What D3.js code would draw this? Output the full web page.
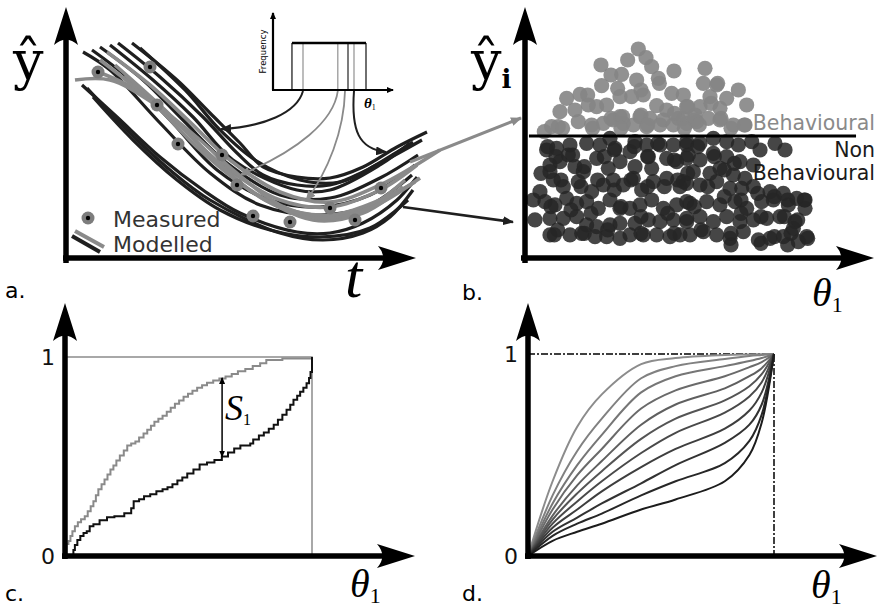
<!DOCTYPE html>
<html>
<head>
<meta charset="utf-8">
<script src="https://cdn.jsdelivr.net/npm/d3@7"></script>
<style>
  html, body { margin: 0; padding: 0; background: #fff; }
  svg { display: block; }
</style>
</head>
<body>
<script>
// ---------- a. model runs (t, y-hat) and observations ----------
const modelRunsDark = [
  [[66,215],[111,178],[144,145],[174,115],[197,91],[231,81],[264,80],[297,91],[331,111],[361,126]],
  [[52,215],[94,181],[137,141],[171,105],[197,83],[231,73],[264,73],[297,86],[331,106],[347,116]],
  [[74,210],[119,168],[154,128],[189,98],[234,78],[274,76],[314,95],[356,118]],
  [[44,213],[87,178],[127,141],[167,98],[231,68],[264,68],[314,93],[344,115]],
  [[34,211],[77,178],[117,138],[161,95],[214,63],[264,60],[314,80],[352,103]],
  [[26,208],[61,181],[104,138],[151,88],[204,58],[254,51],[304,63],[349,93]],
  [[17,206],[44,188],[94,135],[144,85],[194,53],[254,43],[304,53],[346,83]],
  [[16,173],[51,141],[94,101],[137,68],[174,45],[231,26],[264,25],[297,35],[331,58],[351,81]],
  [[21,170],[61,128],[104,88],[144,58],[214,25],[257,18],[297,25],[324,41],[347,68]],
  [[27,161],[67,118],[111,78],[154,48],[204,28],[254,21],[304,30],[342,58]]
];
const modelRunsGray = [
  [[41,206],[84,173],[124,136],[164,98],[214,66],[264,56],[314,73],[374,108]],
  [[27,188],[67,170],[111,135],[154,95],[214,58],[264,51],[314,68],[351,93]],
  [[9,178],[44,178],[87,155],[134,118],[167,88],[214,53],[247,43],[297,48],[339,78]],
  [[34,198],[84,158],[134,108],[184,68],[247,38],[297,45],[337,71]],
  [[49,193],[99,148],[149,98],[199,58],[254,40],[304,50],[354,80]],
  [[59,183],[109,138],[159,88],[209,53],[264,43],[314,58],[349,76]]
];
const measured = [
  [32,186],[84,191],[91,153],[112,114],[156,103],[171,73],
  [187,42],[224,36],[264,50],[289,38],[315,70]
];
// inset: uniform sampling range of theta_1 and the drawn samples
const samplingRange = [0.158, 0.775];
const samplingLevel = 0.61;
const drawnSamples = [0.25, 0.54, 0.625, 0.675];
const drawnShades = ["gray", "gray", "dark", "gray"];

// ---------- b. objective function against theta_1 ----------
const behaviouralThreshold = 367;
const scatterPoints = [
  [342,628],[310,595],[365,602],[230,580],[260,550],[292,552],[382,575],[449,562],[337,535],[402,540],
  [232,518],[127,480],[167,492],[287,485],[322,485],[357,490],[442,495],[477,490],[192,460],[217,455],
  [247,460],[397,458],[427,445],[107,440],[152,445],[287,425],[347,425],[377,420],[417,415],[462,420],
  [82,395],[102,395],[162,410],[202,400],[237,405],[267,415],[297,405],[327,400],[367,395],[407,400],
  [447,400],[487,405],[542,570],[537,525],[577,520],[642,505],[557,485],[607,480],[667,460],[487,455],
  [527,455],[587,450],[477,420],[517,410],[552,420],[587,415],[627,400],[662,400],[512,430],[190,490],
  [260,420],[295,425],[350,430],[450,435],[510,415],[590,420],[115,390],[205,390],[290,390],[370,400],
  [480,390],[525,400],[620,390],[660,400],[60,380],[405,525],[280,510],[350,505],[580,525],[490,455],
  [560,465],
  [67,325],[97,330],[137,340],[132,310],[187,345],[227,340],[272,330],[332,350],[317,320],[367,340],
  [407,340],[447,340],[487,340],[257,360],[77,280],[107,290],[152,275],[177,260],[217,300],[252,270],
  [287,290],[332,275],[372,305],[382,270],[427,300],[457,290],[487,300],[77,260],[47,200],[87,235],
  [117,215],[162,230],[202,200],[237,220],[267,235],[297,220],[327,240],[352,205],[387,230],[427,240],
  [467,215],[487,225],[27,175],[62,170],[92,160],[127,180],[157,165],[187,170],[222,150],[257,175],
  [287,150],[317,150],[347,160],[382,175],[417,150],[457,160],[487,170],[32,115],[77,120],[117,120],
  [157,125],[187,100],[217,95],[257,100],[287,105],[332,105],[372,115],[407,110],[447,115],[487,110],
  [77,70],[137,70],[172,75],[212,65],[247,65],[287,60],[317,70],[357,70],[397,70],[437,65],[467,70],
  [487,350],[527,345],[567,360],[607,350],[642,340],[682,350],[707,325],[752,345],[782,325],[492,310],
  [527,295],[567,315],[607,305],[647,290],[687,280],[507,260],[557,255],[587,270],[627,250],[662,240],
  [477,230],[527,220],[577,230],[617,210],[652,210],[687,215],[737,200],[777,195],[817,180],[497,165],
  [547,170],[587,160],[632,170],[667,150],[712,170],[747,175],[792,160],[842,175],[487,120],[527,125],
  [567,110],[607,125],[647,110],[687,115],[727,120],[767,125],[812,110],[842,150],[497,70],[537,80],
  [577,70],[617,60],[657,80],[702,55],[737,60],[777,65],[807,90],[847,65],[822,50],[70,335],
  [95,305],[145,310],[180,275],[240,305],[270,325],[330,335],[370,305],[400,345],[450,295],[490,255],
  [520,335],[570,305],[600,265],[630,285],[50,255],[110,235],[170,215],[220,235],[270,205],[320,235],
  [370,215],[420,215],[460,235],[550,215],[600,185],[650,175],[700,195],[750,185],[790,175],[840,175],
  [80,155],[140,145],[200,135],[290,155],[350,125],[430,135],[510,155],[650,135],[710,125],[780,125],
  [820,115],[100,85],[180,75],[250,85],[350,75],[450,75],[530,85],[620,75],[750,65],[800,75],
  [850,60],[620,40],[710,45],[790,40],[90,70]
];

// ---------- c. cumulative distributions of theta_1 ----------
const cdfBehavioural = [
  [0.000,0.000],[0.006,0.060],[0.014,0.075],[0.022,0.100],[0.030,0.125],[0.040,0.150],[0.052,0.170],
  [0.065,0.185],[0.080,0.200],[0.092,0.225],[0.104,0.250],[0.115,0.275],[0.125,0.305],[0.135,0.335],
  [0.148,0.360],[0.160,0.385],[0.172,0.410],[0.184,0.435],[0.196,0.455],[0.208,0.480],[0.222,0.505],
  [0.238,0.530],[0.252,0.555],[0.268,0.565],[0.285,0.575],[0.300,0.595],[0.318,0.615],[0.333,0.635],
  [0.348,0.655],[0.362,0.675],[0.378,0.690],[0.395,0.705],[0.412,0.725],[0.428,0.745],[0.445,0.765],
  [0.462,0.782],[0.480,0.800],[0.498,0.815],[0.516,0.830],[0.535,0.845],[0.555,0.858],[0.575,0.870],
  [0.600,0.882],[0.625,0.892],[0.650,0.902],[0.675,0.915],[0.700,0.928],[0.730,0.940],[0.760,0.955],
  [0.790,0.968],[0.815,0.985],[0.880,0.993],[1.000,1.000]
];
const cdfNonBehavioural = [
  [0.030,0.000],[0.034,0.030],[0.040,0.055],[0.050,0.080],[0.062,0.100],[0.075,0.115],[0.088,0.125],
  [0.100,0.150],[0.115,0.160],[0.140,0.180],[0.170,0.195],[0.200,0.200],[0.240,0.215],[0.268,0.240],
  [0.278,0.275],[0.300,0.285],[0.320,0.300],[0.345,0.310],[0.370,0.325],[0.395,0.335],[0.415,0.345],
  [0.435,0.360],[0.455,0.380],[0.475,0.395],[0.495,0.415],[0.520,0.435],[0.545,0.460],[0.575,0.470],
  [0.605,0.482],[0.635,0.500],[0.660,0.520],[0.685,0.540],[0.710,0.555],[0.750,0.565],[0.762,0.585],
  [0.785,0.605],[0.805,0.620],[0.825,0.640],[0.845,0.660],[0.862,0.685],[0.880,0.710],[0.897,0.735],
  [0.912,0.760],[0.925,0.785],[0.940,0.805],[0.952,0.825],[0.965,0.845],[0.978,0.868],[0.988,0.895],
  [0.994,0.925],[1.000,1.000]
];
const separationAt = 0.636;
const separationRange = [0.50, 0.895];

// ---------- d. family of cumulative distributions ----------
const familyTheta = [0, 0.1, 0.2, 0.3, 0.46, 0.6, 0.8, 0.9, 0.95, 1];
const familyCdf = [
  [0, 0.37, 0.64, 0.80, 0.95, 0.98, 0.995, 0.998, 0.999, 1],
  [0, 0.30, 0.52, 0.68, 0.88, 0.94, 0.975, 0.99, 0.995, 1],
  [0, 0.26, 0.45, 0.60, 0.81, 0.89, 0.94, 0.965, 0.98, 1],
  [0, 0.23, 0.40, 0.53, 0.73, 0.82, 0.89, 0.935, 0.96, 1],
  [0, 0.20, 0.35, 0.47, 0.65, 0.75, 0.83, 0.89, 0.93, 1],
  [0, 0.18, 0.31, 0.42, 0.58, 0.68, 0.77, 0.84, 0.90, 1],
  [0, 0.16, 0.27, 0.37, 0.51, 0.61, 0.71, 0.79, 0.86, 1],
  [0, 0.14, 0.23, 0.32, 0.44, 0.53, 0.63, 0.72, 0.81, 1],
  [0, 0.12, 0.19, 0.26, 0.36, 0.45, 0.56, 0.65, 0.75, 1],
  [0, 0.10, 0.16, 0.21, 0.30, 0.37, 0.46, 0.57, 0.70, 1],
  [0, 0.075, 0.12, 0.16, 0.23, 0.28, 0.37, 0.50, 0.66, 1]
];

// ================= drawing =================
const W = 882, H = 609;
const DARK = "#1f1f1f", GRAY = "#8a8a8a";
const SANS = "'DejaVu Sans', sans-serif";
const SERIF = "'Liberation Serif', 'DejaVu Serif', serif";

const svg = d3.select("body").append("svg").attr("width", W).attr("height", H);
svg.append("rect").attr("width", W).attr("height", H).attr("fill", "#fff");
const defs = svg.append("defs");

function addMarker(id, color, len, half) {
  defs.append("marker")
    .attr("id", id)
    .attr("viewBox", `0 ${-half} ${len} ${2 * half}`)
    .attr("refX", len - 1).attr("refY", 0)
    .attr("markerWidth", len).attr("markerHeight", 2 * half)
    .attr("markerUnits", "userSpaceOnUse")
    .attr("orient", "auto-start-reverse")
    .append("path")
    .attr("d", `M0,${-half}L${len},0L0,${half}Z`)
    .attr("fill", color);
}
addMarker("head-dark", DARK, 11, 4.5);
addMarker("head-gray", GRAY, 11, 4.5);
addMarker("head-small", "#000", 7, 3);

// thick axis with a swept arrowhead at (x2, y2)
function axisArrow(x1, y1, x2, y2, w, len = 38, half = 12) {
  const ang = Math.atan2(y2 - y1, x2 - x1) * 180 / Math.PI;
  const L = Math.hypot(x2 - x1, y2 - y1);
  const g = svg.append("g").attr("transform", `translate(${x1},${y1}) rotate(${ang})`);
  g.append("line").attr("x1", 0).attr("y1", 0).attr("x2", L - len * 0.7).attr("y2", 0)
    .attr("stroke", "#000").attr("stroke-width", w);
  g.append("path")
    .attr("d", `M${L},0 L${L - len},${-half} Q${L - len * 0.72},0 ${L - len},${half} Z`)
    .attr("fill", "#000");
}

function thetaLabel(x, y) {
  const t = svg.append("text").attr("x", x).attr("y", y).attr("fill", "#000");
  t.append("tspan").attr("font-family", SERIF).attr("font-style", "italic")
    .attr("font-size", 40).text("θ");
  t.append("tspan").attr("font-family", SERIF).attr("font-size", 22).attr("dy", 6).text("1");
}

function panelLetter(x, y, s) {
  svg.append("text").attr("x", x).attr("y", y).attr("font-family", SANS)
    .attr("font-size", 22).attr("fill", "#000").text(s);
}

// ----- panel a -----
const xA = d3.scaleLinear().domain([0, 350]).range([66, 416]);
const yA = d3.scaleLinear().domain([0, 250]).range([258, 8]);
const runLine = d3.line().x(d => xA(d[0])).y(d => yA(d[1])).curve(d3.curveCatmullRom.alpha(0.5));

const gA = svg.append("g");
gA.selectAll("path.dark").data(modelRunsDark).join("path")
  .attr("d", runLine).attr("fill", "none").attr("stroke", DARK).attr("stroke-width", 3.2);
gA.selectAll("path.gray").data(modelRunsGray).join("path")
  .attr("d", runLine).attr("fill", "none").attr("stroke", GRAY).attr("stroke-width", 3.6);

// arrows from panel a to panel b
const xB = d3.scaleLinear().domain([0, 1000]).range([524.3, 857.7]);
const yB = d3.scaleLinear().domain([0, 700]).range([258.3, 25]);
const grayEnd = modelRunsGray[0][modelRunsGray[0].length - 1];
svg.append("line")
  .attr("x1", xA(grayEnd[0]) - 30).attr("y1", yA(grayEnd[1]) + 12)
  .attr("x2", 521).attr("y2", 118)
  .attr("stroke", GRAY).attr("stroke-width", 3.2).attr("marker-end", "url(#head-gray)");
svg.append("line")
  .attr("x1", 403).attr("y1", 207).attr("x2", 513).attr("y2", 222)
  .attr("stroke", DARK).attr("stroke-width", 2.6).attr("marker-end", "url(#head-dark)");

// measured observations
const gM = svg.append("g");
gM.selectAll("circle.o").data(measured).join("circle")
  .attr("cx", d => xA(d[0])).attr("cy", d => yA(d[1])).attr("r", 6.5).attr("fill", "#7d7d7d");
gM.selectAll("circle.i").data(measured).join("circle")
  .attr("cx", d => xA(d[0])).attr("cy", d => yA(d[1])).attr("r", 2.2).attr("fill", "#000");

// legend
svg.append("circle").attr("cx", 88).attr("cy", 218).attr("r", 6.5).attr("fill", "#7d7d7d");
svg.append("circle").attr("cx", 88).attr("cy", 218).attr("r", 2.2).attr("fill", "#000");
svg.append("line").attr("x1", 75).attr("y1", 231).attr("x2", 104).attr("y2", 247)
  .attr("stroke", GRAY).attr("stroke-width", 4);
svg.append("line").attr("x1", 72).attr("y1", 236).attr("x2", 100).attr("y2", 252)
  .attr("stroke", DARK).attr("stroke-width", 4);
svg.append("text").attr("x", 113).attr("y", 227).attr("font-family", SANS).attr("font-size", 22)
  .attr("fill", "#333").text("Measured");
svg.append("text").attr("x", 113).attr("y", 252).attr("font-family", SANS).attr("font-size", 22)
  .attr("fill", "#333").text("Modelled");

axisArrow(66, 263, 66, 7, 5.5);
axisArrow(63, 258, 416, 258, 5.5);
svg.append("text").attr("x", 13).attr("y", 79).attr("font-family", "'DejaVu Serif', serif")
  .attr("font-size", 54).attr("fill", "#000").text("ŷ");
svg.append("text").attr("x", 345).attr("y", 297).attr("font-family", SERIF).attr("font-style", "italic")
  .attr("font-size", 62).attr("fill", "#000").text("t");
panelLetter(5, 298, "a.");

// inset: sampling distribution
const xI = d3.scaleLinear().domain([0, 1]).range([273, 393]);
const yI = d3.scaleLinear().domain([0, 1]).range([90, 13]);
const gI = svg.append("g");
gI.selectAll("line.s").data(drawnSamples).join("line")
  .attr("x1", d => xI(d)).attr("x2", d => xI(d)).attr("y1", yI(0)).attr("y2", yI(samplingLevel))
  .attr("stroke", (d, i) => drawnShades[i] === "dark" ? "#333" : "#999").attr("stroke-width", 1.3);
gI.selectAll("line.e").data(samplingRange).join("line")
  .attr("x1", d => xI(d)).attr("x2", d => xI(d)).attr("y1", yI(0)).attr("y2", yI(samplingLevel))
  .attr("stroke", "#222").attr("stroke-width", 1.3);
gI.append("line").attr("x1", xI(samplingRange[0])).attr("x2", xI(samplingRange[1]))
  .attr("y1", yI(samplingLevel)).attr("y2", yI(samplingLevel)).attr("stroke", "#000").attr("stroke-width", 2.5);
gI.append("line").attr("x1", xI(0)).attr("y1", yI(0)).attr("x2", xI(0)).attr("y2", yI(1))
  .attr("stroke", "#000").attr("stroke-width", 2.2).attr("marker-end", "url(#head-small)");
gI.append("line").attr("x1", xI(0) - 1).attr("y1", yI(0)).attr("x2", xI(1)).attr("y2", yI(0))
  .attr("stroke", "#000").attr("stroke-width", 2.2).attr("marker-end", "url(#head-small)");
gI.append("text").attr("transform", `translate(266,${yI(0.5)}) rotate(-90)`)
  .attr("text-anchor", "middle").attr("font-family", SANS).attr("font-size", 8.5)
  .attr("fill", "#000").text("Frequency");
const it = gI.append("text").attr("x", 364).attr("y", 108).attr("fill", "#000");
it.append("tspan").attr("font-family", SERIF).attr("font-style", "italic").attr("font-weight", "bold")
  .attr("font-size", 15).text("θ");
it.append("tspan").attr("font-family", SERIF).attr("font-size", 8).attr("dy", 2).text("1");

// curved arrows from samples to model runs
const sx = drawnSamples.map(d => xI(d));
const y0 = yI(0) + 1;
const sampleArrows = [
  { d: `M${sx[0]},${y0} C${sx[0] - 6},${y0 + 22} ${sx[0] - 40},${y0 + 36} 221,${yA(129)}`, c: DARK, m: "head-dark", w: 2 },
  { d: `M${sx[1]},${y0} C${sx[1] - 4},${y0 + 30} ${sx[1] - 40},${y0 + 60} 240,${yA(83)}`, c: GRAY, m: "head-gray", w: 1.8 },
  { d: `M${sx[2] - 3},${y0} C${sx[2] - 4},${y0 + 40} ${sx[2] - 20},${y0 + 80} 306,${yA(57)}`, c: GRAY, m: "head-gray", w: 1.8 },
  { d: `M${sx[3]},${y0} C${sx[3] - 3},${y0 + 40} ${sx[3] + 5},${y0 + 58} 386,${yA(106)}`, c: DARK, m: "head-dark", w: 2 }
];
gI.selectAll("path.arr").data(sampleArrows).join("path")
  .attr("d", d => d.d).attr("fill", "none").attr("stroke", d => d.c)
  .attr("stroke-width", d => d.w).attr("marker-end", d => `url(#${d.m})`);

// ----- panel b -----
const gB = svg.append("g");
const nonBeh = scatterPoints.filter(d => d[1] <= behaviouralThreshold);
const beh = scatterPoints.filter(d => d[1] > behaviouralThreshold);
gB.selectAll("circle.n").data(nonBeh).join("circle")
  .attr("cx", d => xB(d[0])).attr("cy", d => yB(d[1])).attr("r", 7.6)
  .attr("fill", "#262626").attr("fill-opacity", 0.85);
gB.selectAll("circle.b").data(beh).join("circle")
  .attr("cx", d => xB(d[0])).attr("cy", d => yB(d[1])).attr("r", 7.6)
  .attr("fill", "#858585").attr("fill-opacity", 0.9);
gB.append("line").attr("x1", xB(14)).attr("x2", xB(995))
  .attr("y1", yB(behaviouralThreshold)).attr("y2", yB(behaviouralThreshold))
  .attr("stroke", "#000").attr("stroke-width", 3.2);
svg.append("text").attr("x", 875).attr("y", 130).attr("text-anchor", "end").attr("font-family", SANS)
  .attr("font-size", 20.5).attr("fill", "#8a8a8a").text("Behavioural");
svg.append("text").attr("x", 875).attr("y", 157).attr("text-anchor", "end").attr("font-family", SANS)
  .attr("font-size", 20.5).attr("fill", "#1a1a1a").text("Non");
svg.append("text").attr("x", 875).attr("y", 180).attr("text-anchor", "end").attr("font-family", SANS)
  .attr("font-size", 20.5).attr("fill", "#1a1a1a").text("Behavioural");

axisArrow(525, 263, 525, 7, 5.5);
axisArrow(521, 258, 874, 258, 5.5);
const yh = svg.append("text").attr("x", 471).attr("y", 79).attr("fill", "#000");
yh.append("tspan").attr("font-family", "'DejaVu Serif', serif").attr("font-size", 54).text("ŷ");
yh.append("tspan").attr("font-family", "'DejaVu Serif', serif").attr("font-weight", "bold")
  .attr("font-size", 26).attr("dy", 9).text("i");
thetaLabel(812, 306);
panelLetter(462, 300, "b.");

// ----- panel c -----
const xC = d3.scaleLinear().domain([0, 1]).range([65, 312]);
const yC = d3.scaleLinear().domain([0, 1]).range([556, 357]);
const gC = svg.append("g");
gC.append("path").attr("d", `M${xC(0)},${yC(1)}H${xC(1)}V${yC(0)}`)
  .attr("fill", "none").attr("stroke", "#8c8c8c").attr("stroke-width", 1.5);
const stepLine = (xs, ys) => d3.line().x(d => xs(d[0])).y(d => ys(d[1])).curve(d3.curveStepAfter);
gC.append("path").datum(cdfBehavioural).attr("d", stepLine(xC, yC))
  .attr("fill", "none").attr("stroke", "#8a8a8a").attr("stroke-width", 2);
gC.append("path").datum(cdfNonBehavioural).attr("d", stepLine(xC, yC))
  .attr("fill", "none").attr("stroke", "#111").attr("stroke-width", 2);
gC.append("line").attr("x1", xC(separationAt)).attr("x2", xC(separationAt))
  .attr("y1", yC(separationRange[0])).attr("y2", yC(separationRange[1]))
  .attr("stroke", "#000").attr("stroke-width", 1.5)
  .attr("marker-start", "url(#head-small)").attr("marker-end", "url(#head-small)");
const s1 = svg.append("text").attr("x", 225).attr("y", 420).attr("fill", "#000");
s1.append("tspan").attr("font-family", SERIF).attr("font-style", "italic").attr("font-size", 36).text("S");
s1.append("tspan").attr("font-family", SERIF).attr("font-size", 16).attr("dy", 5).text("1");

const axC = svg.append("g").attr("transform", `translate(${xC(0) - 8},0)`)
  .call(d3.axisLeft(yC).tickValues([0, 1]).tickSize(0).tickPadding(2).tickFormat(d3.format("d")));
axC.select(".domain").remove();
axC.selectAll("text").attr("font-family", SANS).attr("font-size", 22).attr("fill", "#111");
axisArrow(65, 559, 65, 303, 5.5);
axisArrow(62, 556, 415, 556, 5.5);
thetaLabel(350, 597);
panelLetter(5, 601, "c.");

// ----- panel d -----
const xD = d3.scaleLinear().domain([0, 1]).range([528, 774]);
const yD = d3.scaleLinear().domain([0, 1]).range([556, 354]);
const gD = svg.append("g");
gD.append("path").attr("d", `M${xD(0)},${yD(1)}H${xD(1)}V${yD(0)}`)
  .attr("fill", "none").attr("stroke", "#000").attr("stroke-width", 1.5)
  .attr("stroke-dasharray", "7,2,2,2");
const shade = d3.scaleLinear().domain([0, familyCdf.length - 1]).range(["#8c8c8c", "#1c1c1c"]);
const famLine = d3.line().x(d => xD(d[0])).y(d => yD(d[1])).curve(d3.curveCatmullRom.alpha(0.5));
gD.selectAll("path.f").data(familyCdf).join("path")
  .attr("d", row => famLine(row.map((v, i) => [familyTheta[i], v])))
  .attr("fill", "none").attr("stroke", (d, i) => shade(i)).attr("stroke-width", 2);

const axD = svg.append("g").attr("transform", `translate(${xD(0) - 8},0)`)
  .call(d3.axisLeft(yD).tickValues([0, 1]).tickSize(0).tickPadding(2).tickFormat(d3.format("d")));
axD.select(".domain").remove();
axD.selectAll("text").attr("font-family", SANS).attr("font-size", 22).attr("fill", "#111");
axisArrow(528, 559, 528, 303, 5.5);
axisArrow(525, 556, 877, 556, 5.5);
thetaLabel(811, 598);
panelLetter(462, 601, "d.");
</script>
</body>
</html>
